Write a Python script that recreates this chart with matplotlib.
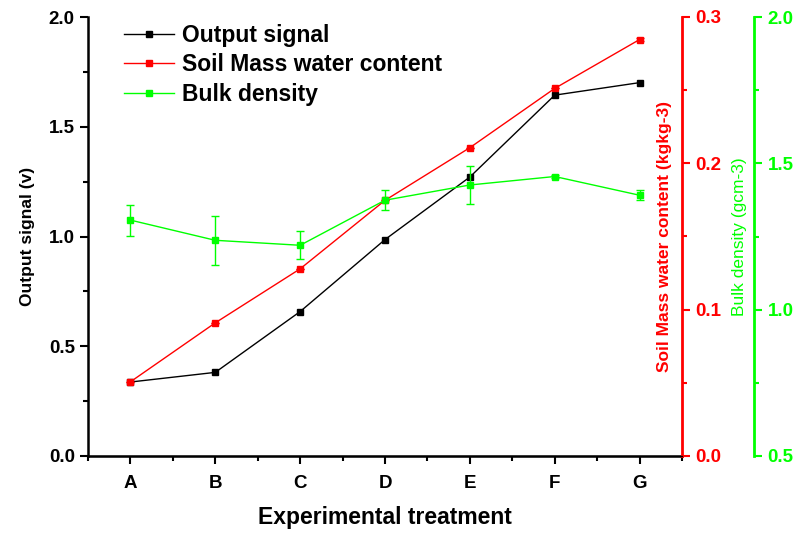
import matplotlib
matplotlib.use("Agg")
import matplotlib.pyplot as plt
from matplotlib.ticker import MultipleLocator, FormatStrFormatter
from matplotlib.lines import Line2D

plt.rcParams['font.family'] = ['Liberation Sans', 'DejaVu Sans']
plt.rcParams['font.weight'] = 'bold'

treatments = ['A', 'B', 'C', 'D', 'E', 'F', 'G']
output_signal = [0.337, 0.381, 0.658, 0.986, 1.271, 1.644, 1.701]
water_content = [0.0507, 0.091, 0.1279, 0.1747, 0.2107, 0.2512, 0.2846]
water_err = [0, 0, 0, 0, 0, 0, 0.0012]
bulk_density = [1.306, 1.237, 1.220, 1.374, 1.426, 1.455, 1.391]
bulk_err = [0.053, 0.083, 0.048, 0.035, 0.064, 0.004, 0.017]

LIME = '#00ff00'
x = list(range(len(treatments)))

fig = plt.figure(figsize=(8.08, 5.33), dpi=100)
ax = fig.add_axes([88 / 808, 1 - 456 / 533, 594 / 808, 439 / 533])
ax2 = ax.twinx()
ax3 = ax.twinx()

ax.plot(x, output_signal, color='black', lw=1.0, marker='s', ms=4.5)
ax2.errorbar(x, water_content, yerr=water_err, color='red', lw=1.0,
             marker='s', ms=4.5, capsize=3, elinewidth=1.0)
ax3.errorbar(x, bulk_density, yerr=bulk_err, color=LIME, lw=1.0,
             marker='s', ms=4.5, capsize=3, elinewidth=1.0)

ax.set_xlim(-0.5, 6.5)
ax.set_ylim(0, 2.0)
ax2.set_ylim(0, 0.3)
ax3.set_ylim(0.5, 2.0)

ax.set_xticks(x)
ax.set_xticklabels(treatments)
ax.xaxis.set_minor_locator(MultipleLocator(0.5))
ax.yaxis.set_major_locator(MultipleLocator(0.5))
ax.yaxis.set_minor_locator(MultipleLocator(0.25))
ax2.yaxis.set_major_locator(MultipleLocator(0.1))
ax2.yaxis.set_minor_locator(MultipleLocator(0.05))
ax3.yaxis.set_major_locator(MultipleLocator(0.5))
ax3.yaxis.set_minor_locator(MultipleLocator(0.25))

tick_fs = 13.5
ax.tick_params(axis='both', which='major', direction='out', length=6, width=1.5,
               labelsize=tick_fs)
ax.tick_params(axis='both', which='minor', direction='out', length=3.5, width=1.5)
ax.tick_params(axis='x', pad=8)
ax.yaxis.set_major_formatter(FormatStrFormatter('%.1f'))

for a in (ax, ax2, ax3):
    a.spines['top'].set_visible(False)
ax.spines['right'].set_visible(False)
ax.spines['left'].set_linewidth(1.8)
ax.spines['bottom'].set_linewidth(1.8)

ax2.spines['left'].set_visible(False)
ax2.spines['right'].set_color('red')
ax2.spines['right'].set_linewidth(2.0)
ax2.tick_params(axis='y', which='major', colors='red', direction='out',
                length=6, width=1.5, labelsize=tick_fs)
ax2.tick_params(axis='y', which='minor', colors='red', direction='out',
                length=3.5, width=1.5)
ax2.yaxis.set_major_formatter(FormatStrFormatter('%.1f'))

ax3.spines['left'].set_visible(False)
ax3.spines['right'].set_position(('outward', 52))
ax3.spines['right'].set_color(LIME)
ax3.spines['right'].set_linewidth(2.0)
ax3.tick_params(axis='y', which='major', colors=LIME, direction='out',
                length=6, width=1.5, labelsize=tick_fs)
ax3.tick_params(axis='y', which='minor', colors=LIME, direction='out',
                length=3.5, width=1.5)
ax3.yaxis.set_major_formatter(FormatStrFormatter('%.1f'))

ax.set_xlabel('Experimental treatment', fontsize=16.5, fontweight='bold', labelpad=10)
ax.set_ylabel('Output signal (v)', fontsize=12.5, fontweight='bold', labelpad=10)
ax2.set_ylabel('Soil Mass water content (kgkg-3)', fontsize=12.5,
               fontweight='bold', color='red', labelpad=-46)
ax3.set_ylabel('Bulk density (gcm-3)', fontsize=12.5, fontweight='normal',
               color=LIME, labelpad=-44)

handles = [Line2D([], [], color=c, lw=1.0, marker='s', ms=4.5)
           for c in ('black', 'red', LIME)]
leg = ax.legend(handles,
                ['Output signal', 'Soil Mass water content', 'Bulk density'],
                loc='upper left', bbox_to_anchor=(0.06, 0.985), frameon=False,
                fontsize=16.5, handlelength=2.2, handletextpad=0.35,
                labelspacing=0.3, borderpad=0.0, borderaxespad=0.0)
for t in leg.get_texts():
    t.set_fontweight('bold')

fig.savefig('out.png', dpi=100)
